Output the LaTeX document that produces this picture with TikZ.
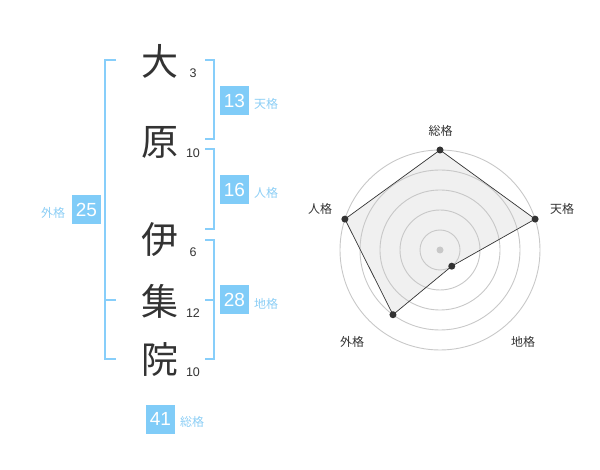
\documentclass[tikz,border=0pt]{standalone}
\usepackage{fontspec}
\setmainfont{Liberation Sans}
\newfontfamily\cjk{Noto Sans CJK JP}
\usetikzlibrary{calc}
\definecolor{bline}{RGB}{135,206,250}
\definecolor{bbox}{RGB}{128,204,248}
\definecolor{blabel}{RGB}{140,206,245}
\definecolor{dtext}{RGB}{51,51,51}
\definecolor{ring}{RGB}{200,200,200}
\definecolor{poly}{RGB}{240,240,240}
\tikzset{
  kanji/.style={inner sep=0pt, text=dtext, font=\cjk\fontsize{37}{37}\selectfont},
  stroke/.style={inner sep=0pt, text=dtext, font=\fontsize{12.5}{12.5}\selectfont},
  numbox/.style={fill=bbox, minimum width=29pt, minimum height=29pt, inner sep=0pt, text=white, font=\fontsize{19}{19}\selectfont},
  kaku/.style={inner sep=0pt, text=blabel, font=\cjk\fontsize{12}{12}\selectfont},
  brk/.style={draw=bline, line width=2pt},
  axlabel/.style={inner sep=0pt, text=dtext, font=\cjk\fontsize{12}{12}\selectfont},
  ringc/.style={draw=ring, line width=0.9pt},
  dot/.style={circle, fill=dtext, inner sep=0pt, minimum size=7pt},
}
\begin{document}
\begin{tikzpicture}[x=1pt,y=-1pt]
\useasboundingbox (0,0) rectangle (600,470);
% characters
\node[kanji] (k1) at (160,61) {大};
\node[kanji] (k2) at (160,142) {原};
\node[kanji] (k3) at (160,240) {伊};
\node[kanji] (k4) at (160,301) {集};
\node[kanji] (k5) at (160,360) {院};
% stroke counts
\node[stroke] (s1) at (193,73) {3};
\node[stroke] (s2) at (193,153) {10};
\node[stroke] (s3) at (193,252) {6};
\node[stroke] (s4) at (193,313) {12};
\node[stroke] (s5) at (193,372) {10};
% brackets
\draw[brk] (205,60) -- (214,60) -- (214,139) -- (205,139);
\draw[brk] (205,149) -- (214,149) -- (214,229) -- (205,229);
\draw[brk] (205,240) -- (214,240) -- (214,359) -- (205,359);
\draw[brk] (205,300) -- (214,300);
\draw[brk] (116,60) -- (105,60) -- (105,359) -- (116,359);
\draw[brk] (105,300) -- (116,300);
% boxes
\node[numbox] (b1) at (234.5,100.5) {13};
\node[kaku] (l1) at (266,104) {天格};
\node[numbox] (b2) at (234.5,190) {16};
\node[kaku] (l2) at (266,193) {人格};
\node[numbox] (b3) at (234.5,300) {28};
\node[kaku] (l3) at (266,304) {地格};
\node[numbox] (b4) at (86.5,210) {25};
\node[kaku] (l4) at (53,213) {外格};
\node[numbox] (b5) at (160.5,419) {41};
\node[kaku] (l5) at (192,422) {総格};
% radar
\coordinate (c) at (440,250);
\coordinate (pS) at ($(c)+(90:100pt)$);
\coordinate (pT) at ($(c)+(18:100pt)$);
\coordinate (pC) at ($(c)+(-54:20pt)$);
\coordinate (pG) at ($(c)+(-126:80pt)$);
\coordinate (pJ) at ($(c)+(162:100pt)$);
\fill[poly] (pS) -- (pT) -- (pC) -- (pG) -- (pJ) -- cycle;
\foreach \r in {20,40,60,80,100} \draw[ringc] (c) circle[radius=\r pt];
\fill[ring] (c) circle[radius=3.5pt];
\draw[draw=dtext, line width=0.7pt] (pS) -- (pT) -- (pC) -- (pG) -- (pJ) -- cycle;
\foreach \p in {pS,pT,pC,pG,pJ} \node[dot] at (\p) {};
\node[axlabel] (aS) at (440.5,131) {総格};
\node[axlabel] (aT) at (562,209) {天格};
\node[axlabel] (aJ) at (320,209) {人格};
\node[axlabel] (aG) at (352,342) {外格};
\node[axlabel] (aC) at (523,342) {地格};
\end{tikzpicture}
\end{document}
